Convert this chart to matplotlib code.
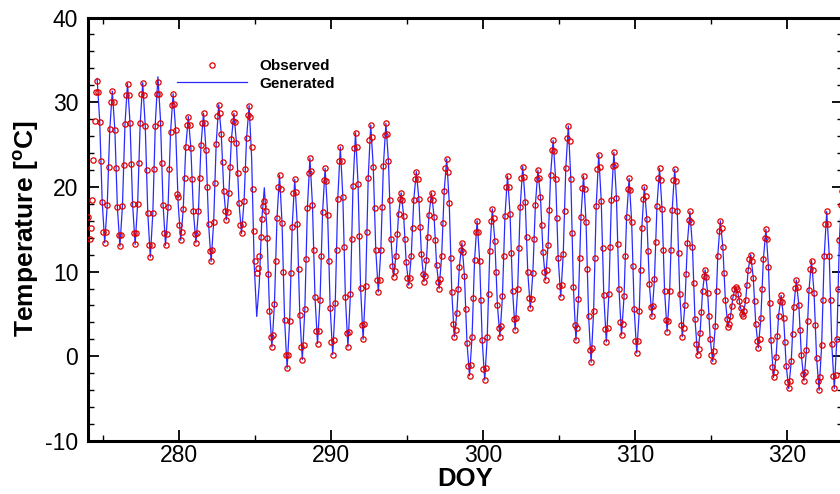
import numpy as np
import matplotlib
matplotlib.use('Agg')
import matplotlib.pyplot as plt
from matplotlib import font_manager

# ---- data ----
obs_start = 274.1 - 1/12      # DOY of first observed value
obs_step = 1/12               # two-hourly observations
observed = [
    16.5,
    13.8, 15.1, 18.5, 23.2, 27.8, 31.2, 32.5, 31.2, 27.7, 23.0, 18.2, 14.7,
    13.4, 14.7, 17.9, 22.4, 26.8, 30.0, 31.3, 30.0, 26.7, 22.2, 17.6, 14.3,
    13.0, 14.3, 17.8, 22.6, 27.4, 30.9, 32.2, 30.9, 27.5, 22.7, 18.0, 14.5,
    13.2, 14.5, 18.0, 22.8, 27.5, 31.0, 32.3, 30.9, 27.2, 22.0, 16.9, 13.1,
    11.7, 13.1, 16.9, 22.1, 27.2, 31.0, 32.4, 31.0, 27.6, 22.8, 17.9, 14.5,
    13.1, 14.4, 17.6, 22.1, 26.5, 29.7, 31.0, 29.8, 26.7, 19.2, 18.8, 15.5,
    13.7, 14.7, 17.4, 21.0, 24.7, 27.3, 28.3, 27.3, 24.6, 20.9, 17.1, 14.4,
    13.4, 14.5, 17.2, 21.1, 24.9, 27.6, 28.7, 27.5, 24.3, 20.0, 15.6, 12.4,
    11.2, 12.5, 15.8, 20.5, 25.1, 28.4, 29.7, 28.7, 26.3, 22.9, 19.5, 17.1,
    16.1, 17.0, 19.3, 22.4, 25.6, 27.8, 28.7, 27.7, 25.2, 21.6, 18.1, 15.5,
    14.5, 15.6, 18.3, 22.1, 25.8, 28.5, 29.6, 28.2, 24.7, 19.7, 14.8, 11.2,
    9.8, 10.4, 11.9, 14.1, 16.2, 17.7, 18.3, 17.1, 14.0, 9.7, 5.4, 2.3,
    1.1, 2.5, 6.2, 11.3, 16.3, 20.0, 21.4, 19.8, 15.7, 10.0, 4.3, 0.2,
    -1.4, 0.2, 4.2, 9.8, 15.3, 19.3, 20.9, 19.4, 15.6, 10.3, 4.9, 1.1,
    -0.4, 1.3, 5.6, 11.5, 17.5, 21.7, 23.4, 21.9, 17.9, 12.5, 7.0, 3.0,
    1.5, 3.0, 6.7, 11.9, 17.0, 20.8, 22.2, 20.7, 16.7, 11.2, 5.7, 1.7,
    0.2, 1.9, 6.3, 12.5, 18.6, 23.0, 24.7, 23.0, 18.8, 12.9, 7.0, 2.8,
    1.1, 2.9, 7.4, 13.8, 20.1, 24.6, 26.4, 24.7, 20.3, 14.2, 8.1, 3.7,
    2.0, 3.8, 8.3, 14.7, 21.0, 25.5, 27.3, 25.9, 22.4, 17.5, 12.5, 9.0,
    7.6, 9.0, 12.6, 17.6, 22.5, 26.1, 27.5, 26.2, 23.0, 18.5, 13.9, 10.7,
    9.4, 10.1, 11.9, 14.4, 16.8, 18.6, 19.3, 18.5, 16.6, 13.9, 11.1, 9.2,
    8.4, 9.3, 11.8, 15.1, 18.5, 20.9, 21.8, 20.9, 18.6, 15.3, 12.1, 9.7,
    8.8, 9.5, 11.4, 14.1, 16.7, 18.6, 19.3, 18.5, 16.5, 13.7, 10.8, 8.8,
    8.0, 9.1, 11.8, 15.7, 19.5, 22.2, 23.3, 21.8, 18.1, 11.6, 7.6, 3.8,
    2.3, 3.1, 5.1, 7.9, 10.6, 12.6, 13.4, 12.3, 9.5, 5.6, 1.6, -1.2,
    -2.3, -1.0, 2.3, 6.9, 11.4, 14.7, 16.0, 14.7, 11.3, 6.6, 1.9, -1.5,
    -2.8, -1.4, 2.3, 7.3, 12.4, 16.0, 17.4, 16.3, 13.6, 9.9, 6.1, 3.4,
    2.3, 3.6, 7.1, 11.8, 16.6, 20.0, 21.3, 20.0, 16.8, 12.2, 7.7, 4.4,
    3.1, 4.5, 7.9, 12.8, 17.6, 21.0, 22.4, 21.2, 18.2, 14.1, 9.9, 6.9,
    5.7, 6.8, 9.8, 13.9, 17.9, 20.9, 22.0, 21.1, 18.8, 15.5, 12.3, 9.9,
    9.0, 10.2, 13.1, 17.3, 21.4, 24.3, 25.5, 24.2, 20.9, 16.3, 11.6, 8.3,
    7.0, 8.4, 12.1, 17.1, 22.2, 25.8, 27.2, 25.4, 20.9, 14.6, 8.2, 3.7,
    1.9, 3.3, 6.8, 11.6, 16.5, 19.9, 21.3, 19.8, 15.8, 10.3, 4.8, 0.8,
    -0.7, 1.0, 5.4, 11.6, 17.7, 22.1, 23.8, 22.3, 18.3, 12.8, 7.2, 3.2,
    1.7, 3.3, 7.3, 12.9, 18.5, 22.5, 24.1, 22.6, 18.7, 13.3, 7.9, 4.0,
    2.5, 3.8, 7.1, 11.8, 16.4, 19.7, 21.0, 19.6, 15.9, 10.7, 5.6, 1.8,
    0.4, 1.8, 5.3, 10.2, 15.1, 18.6, 20.0, 18.9, 16.2, 12.4, 8.5, 5.8,
    4.7, 5.9, 9.1, 13.5, 17.8, 21.0, 22.2, 20.8, 17.4, 12.6, 7.7, 4.3,
    2.9, 4.2, 7.7, 12.5, 17.3, 20.8, 22.1, 20.7, 17.2, 12.2, 7.3, 3.7,
    2.3, 3.3, 6.0, 9.7, 13.4, 16.1, 17.1, 15.9, 12.9, 8.7, 4.4, 1.4,
    0.2, 0.9, 2.7, 5.2, 7.7, 9.5, 10.2, 9.4, 7.5, 4.8, 2.1, 0.2,
    -0.6, 0.6, 3.6, 7.7, 11.9, 14.8, 16.0, 15.1, 12.9, 9.8, 6.6, 4.4,
    3.5, 3.8, 4.7, 5.9, 7.0, 7.9, 8.2, 8.0, 7.4, 6.5, 5.7, 5.0,
    4.8, 5.3, 6.6, 8.4, 10.2, 11.5, 12.0, 11.2, 9.3, 6.5, 3.8, 1.8,
    1.0, 2.0, 4.5, 8.0, 11.5, 14.0, 15.0, 13.8, 10.6, 6.3, 1.9, -1.3,
    -2.5, -1.8, -0.1, 2.4, 4.8, 6.5, 7.2, 6.4, 4.5, 1.7, -1.1, -3.0,
    -3.8, -2.9, -0.6, 2.6, 5.8, 8.1, 9.0, 8.2, 6.0, 3.1, 0.1, -2.1,
    -2.9, -1.9, 0.7, 4.2, 7.8, 10.3, 11.3, 10.2, 7.5, 3.7, -0.2, -2.9,
    -4.0, -2.5, 1.3, 6.6, 11.8, 15.6, 17.1, 15.6, 11.9, 6.7, 1.4, -2.3,
    -3.8, -2.2, 2.0, 7.9, 13.7, 17.9, 19.5, 18.0, 15.0,
]

gen_start = 274.6             # DOY of first generated value
gen_step = 1/6                # four-hourly generated values
generated = [
    32.8, 27.9, 18.3, 13.4, 17.9, 26.8,
    31.3, 26.7, 17.6, 13.0, 17.8, 27.4,
    32.2, 27.5, 18.0, 13.2, 18.0, 27.5,
    32.3, 27.2, 16.9, 11.7, 17.0, 27.7,
    33.0, 28.0, 18.1, 13.1, 17.6, 26.5,
    31.0, 26.7, 18.0, 13.7, 17.4, 24.7,
    28.3, 24.6, 17.1, 13.4, 17.2, 24.9,
    28.7, 24.3, 15.6, 11.2, 15.8, 25.1,
    29.7, 26.3, 19.5, 16.1, 19.3, 25.6,
    28.7, 25.2, 18.1, 14.5, 18.3, 25.8,
    29.6, 23.4, 10.9, 4.7, 8.5, 16.1,
    19.9, 15.2, 5.8, 1.1, 6.2, 16.3,
    21.4, 15.7, 4.3, -1.4, 4.2, 15.3,
    20.9, 15.6, 4.9, -0.4, 5.6, 17.5,
    23.4, 17.9, 7.0, 1.5, 6.7, 17.0,
    22.2, 16.7, 5.7, 0.2, 6.3, 18.6,
    24.7, 18.8, 7.0, 1.1, 7.4, 20.1,
    26.4, 20.3, 8.1, 2.0, 8.3, 21.0,
    27.3, 22.4, 12.5, 7.6, 12.6, 22.5,
    27.5, 23.0, 13.9, 9.4, 11.9, 16.8,
    19.3, 16.6, 11.1, 8.4, 11.8, 18.5,
    21.8, 18.6, 12.1, 8.8, 11.4, 16.7,
    19.3, 16.5, 10.8, 8.0, 11.8, 19.5,
    23.3, 18.1, 7.6, 2.3, 5.1, 10.6,
    13.4, 9.5, 1.6, -2.3, 2.3, 11.4,
    16.0, 11.3, 1.9, -2.8, 2.3, 12.4,
    17.4, 13.6, 6.1, 2.3, 7.1, 16.6,
    21.3, 16.8, 7.7, 3.1, 7.9, 17.6,
    22.4, 18.2, 9.9, 5.7, 9.8, 17.9,
    22.0, 18.8, 12.3, 9.0, 13.1, 21.4,
    25.5, 20.9, 11.6, 7.0, 12.1, 22.2,
    27.2, 20.9, 8.2, 1.9, 6.8, 16.5,
    21.3, 15.8, 4.8, -0.7, 5.4, 17.7,
    23.8, 18.3, 7.2, 1.7, 7.3, 18.5,
    24.1, 18.7, 7.9, 2.5, 7.1, 16.4,
    21.0, 15.9, 5.6, 0.4, 5.3, 15.1,
    20.0, 16.2, 8.5, 4.7, 9.1, 17.8,
    22.2, 17.4, 7.7, 2.9, 7.7, 17.3,
    22.1, 17.2, 7.3, 2.3, 6.0, 13.4,
    17.1, 12.9, 4.4, 0.2, 2.7, 7.7,
    10.2, 7.5, 2.1, -0.6, 3.6, 11.9,
    16.0, 12.9, 6.6, 3.5, 4.7, 7.0,
    8.2, 7.4, 5.7, 4.8, 6.6, 10.2,
    12.0, 9.3, 3.8, 1.0, 4.5, 11.5,
    15.0, 10.6, 1.9, -2.5, -0.1, 4.8,
    7.2, 4.5, -1.1, -3.8, -0.6, 5.8,
    9.0, 6.0, 0.1, -2.9, 0.7, 7.8,
    11.3, 7.5, -0.2, -4.0, 1.3, 11.8,
    17.1, 11.9, 1.4, -3.8, 2.0, 13.7,
    19.5, 15.0,
]

x_ticks = [280, 290, 300, 310, 320]
y_ticks = [-10, 0, 10, 20, 30, 40]
x_label = 'DOY'
y_label = r'Temperature [$\mathbf{^{o}}$C]'
series_names = ['Observed', 'Generated']

# ---- fonts ----
names = {f.name for f in font_manager.fontManager.ttflist}
base = 'Liberation Sans' if 'Liberation Sans' in names else 'DejaVu Sans'
narrow = 'Liberation Sans Narrow' if 'Liberation Sans Narrow' in names else base
plt.rcParams['font.family'] = [base, 'DejaVu Sans']
plt.rcParams['mathtext.fontset'] = 'custom'
plt.rcParams['mathtext.rm'] = base
plt.rcParams['mathtext.bf'] = base + ':bold'
plt.rcParams['axes.unicode_minus'] = False

t_obs = obs_start + obs_step * np.arange(len(observed))
t_gen = gen_start + gen_step * np.arange(len(generated))

fig = plt.figure(figsize=(8.4, 4.94), dpi=100)
W, H = 840, 494
ax = fig.add_axes([88 / W, 1 - 441 / H, 755 / W, (441 - 17.5) / H])

ax.plot(t_obs, observed, linestyle='none', marker='o', markersize=3.8,
        markerfacecolor='none', markeredgecolor='#e00000', markeredgewidth=0.9,
        label=series_names[0], zorder=3)
ax.plot(t_gen, generated, color='#2a2aff', lw=0.9, label=series_names[1], zorder=2)

ax.set_xlim(274, 274 + 755 / 15.2)
ax.set_ylim(-10, 40)
ax.set_xticks(x_ticks)
ax.set_xticks(np.arange(275, 325, 10), minor=True)
ax.set_yticks(y_ticks)
ax.set_yticks(np.arange(-10, 41, 2), minor=True)

ax.tick_params(which='both', direction='in', top=True, right=True, color='black')
ax.tick_params(which='major', length=8, width=1.3)
ax.tick_params(which='minor', length=4.5, width=1.0)
ax.tick_params(axis='y', which='major', labelsize=16.5, pad=7)
ax.tick_params(axis='x', which='major', labelsize=16.5, pad=2)
for lab in ax.get_xticklabels():
    lab.set_family([narrow, 'DejaVu Sans'])
for s in ax.spines.values():
    s.set_linewidth(2.2)

ax.set_xlabel(x_label, fontsize=18.5, fontweight='bold', family=[narrow, 'DejaVu Sans'], labelpad=0)
ax.set_ylabel(y_label, fontsize=19, fontweight='bold')
ax.yaxis.set_label_coords(-0.062, 0.5)

leg = ax.legend(loc='upper left', bbox_to_anchor=(177 / W, 1 - 59.5 / H),
                bbox_transform=fig.transFigure, frameon=False, numpoints=1,
                handlelength=4.6, handletextpad=0.8, borderpad=0, borderaxespad=0,
                labelspacing=0.2, prop={'size': 11, 'weight': 'bold'})

fig.savefig('out.png', dpi=100)
